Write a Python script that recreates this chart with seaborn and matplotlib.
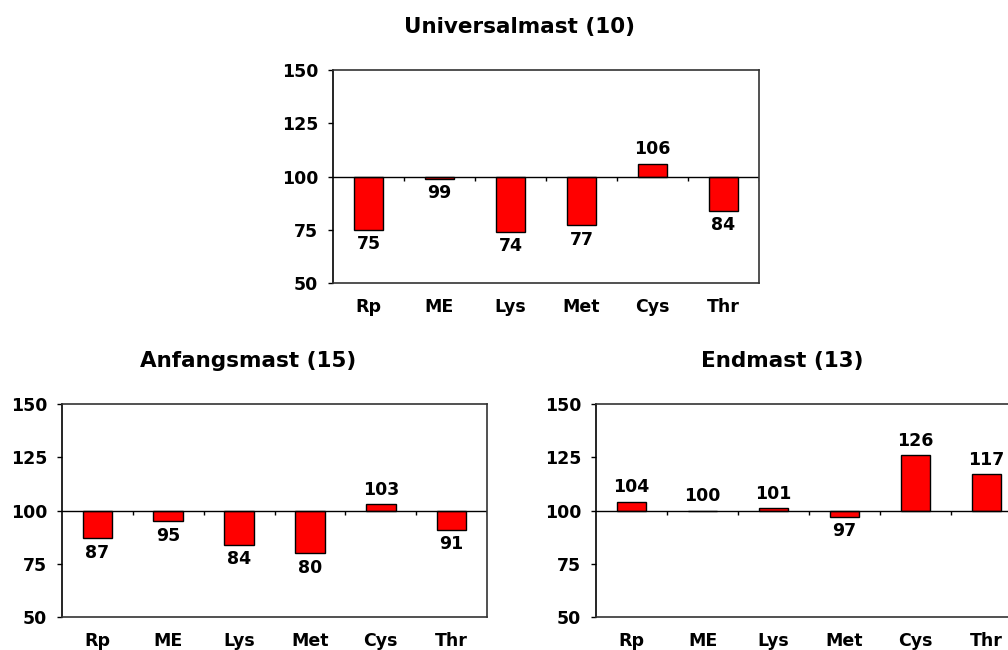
import matplotlib
matplotlib.use("Agg")
import matplotlib.pyplot as plt
import seaborn as sns
import pandas as pd

categories = ["Rp", "ME", "Lys", "Met", "Cys", "Thr"]
universal = [75, 99, 74, 77, 106, 84]
anfang = [87, 95, 84, 80, 103, 91]
endmast = [104, 100, 101, 97, 126, 117]
titles = ["Universalmast (10)", "Anfangsmast (15)", "Endmast (13)"]
yticks = [50, 75, 100, 125, 150]
baseline = 100

sns.set_style("white")
plt.rcParams["font.family"] = ["DejaVu Sans"]
plt.rcParams["font.weight"] = "bold"
plt.rcParams["text.color"] = "black"
plt.rcParams["xtick.color"] = "black"
plt.rcParams["ytick.color"] = "black"
plt.rcParams["axes.labelcolor"] = "black"

fig = plt.figure(figsize=(10.08, 6.5), dpi=100)
positions = [
    [333 / 1008, 1 - 283 / 650, 426 / 1008, 213 / 650],
    [62 / 1008, 1 - 617 / 650, 425 / 1008, 213 / 650],
    [596 / 1008, 1 - 617 / 650, 426 / 1008, 213 / 650],
]
series = [universal, anfang, endmast]
fs = 12.5

for pos, vals, title in zip(positions, series, titles):
    ax = fig.add_axes(pos)
    df = pd.DataFrame({"cat": categories, "val": [v - baseline for v in vals]})
    sns.barplot(data=df, x="cat", y="val", color="#FF0000", saturation=1,
                width=0.42, edgecolor="black", linewidth=1.0, ax=ax,
                bottom=baseline)
    ax.set_xlim(-0.5, len(categories) - 0.5)
    ax.set_ylim(50, 150)
    ax.set_yticks(yticks)
    ax.set_yticklabels([str(t) for t in yticks], fontsize=fs, fontweight="bold")
    ax.set_xticks(range(len(categories)))
    ax.set_xticklabels(categories, fontsize=fs, fontweight="bold")
    ax.tick_params(axis="x", length=0, pad=11)
    ax.tick_params(axis="y", direction="out", length=3.6, width=1, pad=7, left=True)
    ax.set_xlabel("")
    ax.set_ylabel("")
    for s in ax.spines.values():
        s.set_visible(True)
        s.set_color("#333333")
        s.set_linewidth(1.2)
    ax.spines["left"].set_color("black")
    ax.axhline(baseline, color="black", lw=1.0, zorder=1)
    ax.vlines([i + 0.5 for i in range(len(categories))], baseline - 2.3, baseline,
              color="black", lw=1.0, zorder=1)
    for i, v in enumerate(vals):
        off = 10.5 if v >= baseline else -10.5
        ax.annotate(str(v), (i, v), xytext=(0, off), textcoords="offset points",
                    ha="center", va="center", fontsize=fs, fontweight="bold")
    ax.set_title(title, x=0.437, pad=26.5, fontsize=15.5, fontweight="bold")

fig.savefig("out.png", dpi=100)
